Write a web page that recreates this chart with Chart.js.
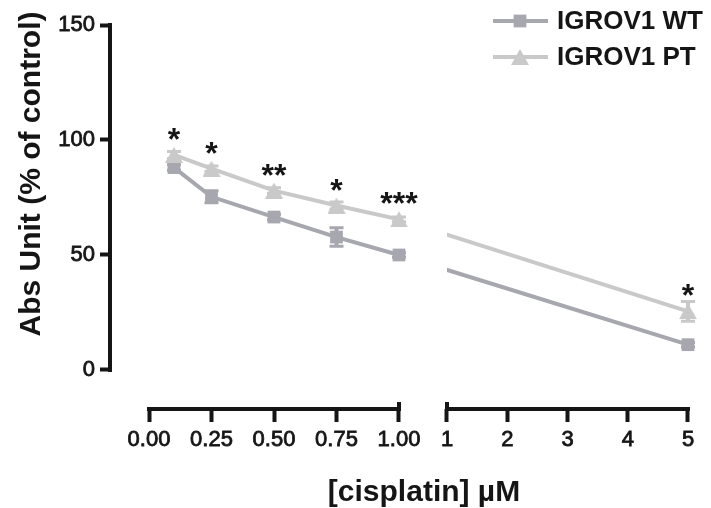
<!DOCTYPE html>
<html><head><meta charset="utf-8">
<script src="https://cdn.jsdelivr.net/npm/chart.js@4/dist/chart.umd.min.js"></script>
<style>html,body{margin:0;padding:0;background:#fff}</style>
</head><body>
<canvas id="c" width="711" height="508"></canvas>
<script>
// ---- data ----
const doses = [0.1, 0.25, 0.5, 0.75, 1, 5];
const wtMean = [88, 75.3, 66.5, 57.8, 50, 11];
const wtErr = [1.2, 2.6, 1.2, 4, 1, 1];
const ptMean = [93.5, 87.5, 78, 71.5, 65.5, 25.5];
const ptErr = [1.5, 1.2, 1.2, 1.5, 1, 4.3];
const ptStars = ['*', '*', '**', '*', '***', '*'];
const seriesNames = ['IGROV1 WT', 'IGROV1 PT'];
const xTickValues = [0, 0.25, 0.5, 0.75, 1, 1, 2, 3, 4, 5];
const xTickSegment = [0, 0, 0, 0, 0, 1, 1, 1, 1, 1];
const xTickLabels = ['0.00', '0.25', '0.50', '0.75', '1.00', '1', '2', '3', '4', '5'];
const yTickValues = [0, 50, 100, 150];
const xTitle = '[cisplatin] \u00b5M';
const yTitle = 'Abs Unit (% of control)';

// ---- style ----
const WT_COLOR = '#a6a7af';
const PT_COLOR = '#c9c9c9';
const INK = '#151515';
const FONT = '"Liberation Sans", Arial, sans-serif';

function makeTriangle(color, w, h) {
  const c = document.createElement('canvas'); c.width = w; c.height = h;
  const g = c.getContext('2d'); g.fillStyle = color;
  g.beginPath(); g.moveTo(w / 2, 0); g.lineTo(w, h); g.lineTo(0, h); g.closePath(); g.fill();
  return c;
}
const triImg = makeTriangle(PT_COLOR, 18, 16);

// broken axis: segment 0 spans 0..1, segment 1 spans 1..5
const SEG2_START = 1.192, SEG2_K = 0.241;
function axisPos(v, seg) { return seg === 0 ? v : SEG2_START + (v - 1) * SEG2_K; }
function dosePos(d) { return axisPos(d, d <= 1 ? 0 : 1); }

const wtPts = doses.map((d, i) => ({ x: dosePos(d), y: wtMean[i] }));
const ptPts = doses.map((d, i) => ({ x: dosePos(d), y: ptMean[i] }));

const series = [
  { name: seriesNames[0], color: WT_COLOR, mean: wtMean, err: wtErr, style: 'rect' },
  { name: seriesNames[1], color: PT_COLOR, mean: ptMean, err: ptErr, style: triImg }
];

const plugin = {
  id: 'brokenAxis',
  beforeDatasetsDraw(chart) {
    const ctx = chart.ctx, xs = chart.scales.x, ys = chart.scales.y;
    ctx.save();
    series.forEach(s => {
      ctx.strokeStyle = s.color;
      doses.forEach((d, i) => {
        const x = xs.getPixelForValue(dosePos(d));
        const y1 = ys.getPixelForValue(s.mean[i] + s.err[i]);
        const y2 = ys.getPixelForValue(s.mean[i] - s.err[i]);
        ctx.lineWidth = 4;
        ctx.beginPath(); ctx.moveTo(x, y1); ctx.lineTo(x, y2); ctx.stroke();
        ctx.lineWidth = 3;
        ctx.beginPath();
        ctx.moveTo(x - 7, y1); ctx.lineTo(x + 7, y1);
        ctx.moveTo(x - 7, y2); ctx.lineTo(x + 7, y2);
        ctx.stroke();
      });
    });
    ctx.restore();
  },
  beforeDatasetDraw(chart, args) {
    if (args.index < 2) return;
    const ctx = chart.ctx, xs = chart.scales.x;
    const g1 = xs.getPixelForValue(axisPos(1, 0));
    const g2 = xs.getPixelForValue(axisPos(1, 1));
    ctx.save();
    ctx.beginPath();
    ctx.rect(0, 0, g1, chart.height);
    ctx.rect(g2, 0, chart.width - g2, chart.height);
    ctx.clip();
  },
  afterDatasetDraw(chart, args) {
    if (args.index < 2) return;
    chart.ctx.restore();
  },
  afterDraw(chart) {
    const ctx = chart.ctx, xs = chart.scales.x, ys = chart.scales.y, ca = chart.chartArea;
    ctx.save();
    // axis lines
    ctx.strokeStyle = INK; ctx.lineWidth = 4; ctx.lineCap = 'square';
    ctx.beginPath();
    ctx.moveTo(ca.left, ys.getPixelForValue(0)); ctx.lineTo(ca.left, ys.getPixelForValue(150));
    const yb = ca.bottom;
    ctx.moveTo(xs.getPixelForValue(axisPos(0, 0)), yb); ctx.lineTo(xs.getPixelForValue(axisPos(1, 0)), yb);
    ctx.moveTo(xs.getPixelForValue(axisPos(1, 1)), yb); ctx.lineTo(xs.getPixelForValue(axisPos(5, 1)), yb);
    ctx.stroke();
    // break marks
    ctx.lineCap = 'butt';
    ctx.beginPath();
    [axisPos(1, 0), axisPos(1, 1)].forEach(p => {
      const x = xs.getPixelForValue(p);
      ctx.moveTo(x, yb - 7); ctx.lineTo(x, yb + 2);
    });
    ctx.stroke();

    // titles
    ctx.fillStyle = INK;
    ctx.font = 'bold 30px ' + FONT;
    ctx.textAlign = 'center'; ctx.textBaseline = 'alphabetic';
    ctx.fillText(xTitle, 424, 501);
    ctx.save();
    ctx.translate(40, 174); ctx.rotate(-Math.PI / 2);
    ctx.fillText(yTitle, 0, 0);
    ctx.restore();

    // legend
    const lx1 = 493, lx2 = 548, lmx = 520, ltx = 557;
    const lys = [21, 57];
    series.forEach((s, i) => {
      const y = lys[i];
      ctx.strokeStyle = s.color; ctx.lineWidth = 4;
      ctx.beginPath(); ctx.moveTo(lx1, y); ctx.lineTo(lx2, y); ctx.stroke();
      ctx.fillStyle = s.color;
      Chart.helpers.drawPoint(ctx, { pointStyle: s.style, radius: 9, rotation: 0, borderWidth: 0 }, lmx, y);
      ctx.fillStyle = INK;
      ctx.font = 'bold 26px ' + FONT;
      ctx.textAlign = 'left'; ctx.textBaseline = 'middle';
      ctx.fillText(s.name, ltx, y + 1);
    });

    // significance stars
    ctx.fillStyle = INK;
    ctx.font = 'bold 32px ' + FONT;
    ctx.textAlign = 'center'; ctx.textBaseline = 'alphabetic';
    const m = ctx.measureText('*');
    const shift = (m.actualBoundingBoxDescent - m.actualBoundingBoxAscent) / 2;
    doses.forEach((d, i) => {
      if (!ptStars[i]) return;
      const x = xs.getPixelForValue(dosePos(d));
      const cy = ys.getPixelForValue(ptMean[i]) - 21;
      ctx.fillText(ptStars[i], x, cy - shift);
    });
    ctx.restore();
  }
};

new Chart(document.getElementById('c'), {
  type: 'line',
  data: {
    datasets: [
      { data: ptPts, showLine: false, pointStyle: triImg, pointRadius: 9, pointBorderWidth: 0,
        pointBackgroundColor: PT_COLOR, borderColor: PT_COLOR },
      { data: wtPts, showLine: false, pointStyle: 'rect', pointRadius: 9, pointBorderWidth: 0,
        pointBackgroundColor: WT_COLOR, borderColor: WT_COLOR },
      { data: ptPts, pointRadius: 0, borderWidth: 4, borderColor: PT_COLOR, tension: 0, fill: false },
      { data: wtPts, pointRadius: 0, borderWidth: 4, borderColor: WT_COLOR, tension: 0, fill: false }
    ]
  },
  options: {
    responsive: false,
    animation: false,
    events: [],
    layout: { padding: { top: 25, right: 11, bottom: 0, left: 0 } },
    plugins: { legend: { display: false }, tooltip: { enabled: false } },
    scales: {
      x: {
        type: 'linear', min: -0.156, max: 2.204,
        afterBuildTicks: s => { s.ticks = xTickValues.map((v, i) => ({ value: axisPos(v, xTickSegment[i]) })); },
        afterFit: s => { s.height = 99; },
        ticks: { autoSkip: false, maxRotation: 0, padding: 5, color: INK,
          textStrokeColor: INK, textStrokeWidth: 0.8,
          font: { family: FONT, size: 22 }, callback: (v, i) => xTickLabels[i] },
        grid: { drawOnChartArea: false, drawTicks: true, tickLength: 13, tickWidth: 4, tickColor: INK },
        border: { display: false }
      },
      y: {
        type: 'linear', min: -16.96, max: 150,
        afterBuildTicks: s => { s.ticks = yTickValues.map(v => ({ value: v })); },
        afterFit: s => { s.width = 110; },
        ticks: { padding: 5, color: INK, textStrokeColor: INK, textStrokeWidth: 0.8,
          font: { family: FONT, size: 22 }, callback: v => String(v) },
        grid: { drawOnChartArea: false, drawTicks: true, tickLength: 10, tickWidth: 4, tickColor: INK },
        border: { display: false }
      }
    }
  },
  plugins: [plugin]
});
</script>
</body></html>
